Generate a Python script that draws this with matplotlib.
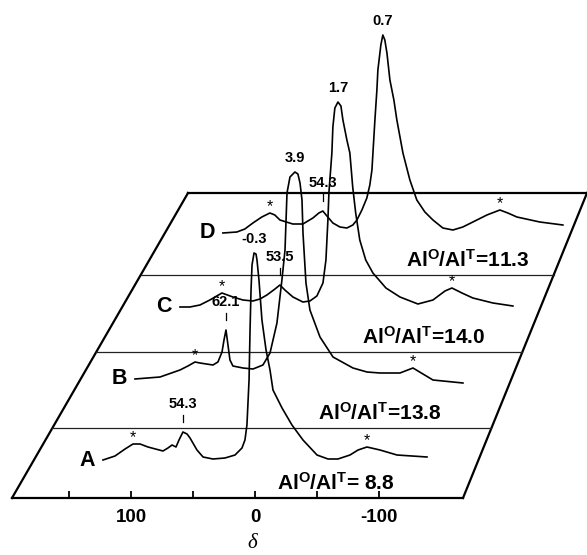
import numpy as np
import matplotlib.pyplot as plt

plt.rcParams['font.family'] = ['Liberation Sans', 'DejaVu Sans']
plt.rcParams['mathtext.fontset'] = 'custom'
plt.rcParams['mathtext.rm'] = 'Liberation Sans:bold'
plt.rcParams['mathtext.it'] = 'Liberation Sans:bold'
plt.rcParams['mathtext.bf'] = 'Liberation Sans:bold'

# 27Al spectra: shift (ppm) and height above own baseline
a_ppm = [122.6, 112.9, 104.8, 98.4, 92.7, 86.3, 74.2, 70.2, 66.9, 63.7, 61.3, 58.1, 54.8, 52.4, 46.8,
         41.9, 33.9, 24.2, 16.1, 10.5, 8.1, 6.5, 4.8, 4.0, 3.2, 2.4, 0.8, -0.8, -1.6, -3.2, -5.6, -8.9,
         -12.1, -14.5, -21.8, -29.8, -38.7, -50.0, -58.9, -66.9, -76.6, -83.1, -90.3, -100.8, -114.5, -138.7]
a_int = [0, 4, 11, 16, 16, 13, 9, 12, 15, 13, 20, 28, 26, 22, 10,
         3, 1, 2, 5, 12, 20, 35, 80, 130, 170, 195, 207, 206, 200, 180, 140, 110,
         90, 70, 52, 35, 20, 5, 1, 1, 5, 10, 13, 10, 5, 3]

b_ppm = [130.8, 110.6, 94.5, 88.1, 82.4, 78.4, 67.9, 63.9, 60.6, 59.0, 57.4, 55.8, 54.2, 51.8, 43.7,
         35.6, 27.6, 21.9, 16.3, 12.3, 9.8, 8.2, 5.8, 1.8, -0.6, -2.3, -3.9, -4.7, -7.1, -10.3,
         -18.4, -28.9, -45.0, -56.3, -66.8, -82.9, -93.4, -109.5, -133.7]
b_int = [0, 2, 9, 13, 17, 16, 14, 17, 27, 39, 49, 34, 19, 13, 11,
         10, 14, 26, 56, 99, 129, 186, 202, 207, 205, 196, 179, 146, 96, 69,
         42, 22, 11, 7, 6, 6, 11, -1, -4]

c_ppm = [128.5, 120.5, 112.4, 104.4, 94.7, 85.8, 77.7, 69.7, 64.0, 58.4, 51.9, 47.9, 43.9, 37.4, 29.4,
         23.7, 18.1, 13.2, 10.8, 9.2, 8.4, 6.0, 5.2, 3.6, 1.1, -1.3, -2.9, -6.1, -8.5, -10.8,
         -13.2, -16.5, -21.3, -27.1, -37.6, -48.9, -63.4, -75.5, -85.2, -90.8, -98.9, -107.7, -123.9, -140.0]
c_int = [0, 0, 2, 7, 14, 10, 7, 6, 8, 12, 18, 22, 17, 10, 5,
         6, 11, 24, 47, 87, 114, 154, 180, 199, 205, 201, 187, 167, 154, 120,
         94, 67, 47, 34, 19, 10, 3, 7, 16, 19, 14, 9, 4, 1]

d_ppm = [127.9, 116.6, 110.2, 103.7, 96.5, 90.0, 86.0, 81.9, 71.5, 63.4, 55.3, 50.5, 47.3, 44.0, 39.2,
         33.5, 27.9, 23.1, 19.8, 15.8, 11.8, 9.4, 7.7, 5.3, 3.7, 2.9, 0.5, -1.1, -2.7, -4.4,
         -6.8, -10.0, -12.4, -17.3, -22.9, -28.5, -35.0, -41.5, -49.5, -57.6, -65.6, -73.7, -85.0,
         -95.5, -101.9, -109.2, -127.7, -146.3]
d_int = [0, 1, 4, 10, 16, 20, 18, 13, 9, 9, 15, 20, 22, 17, 10,
         6, 5, 8, 13, 23, 35, 48, 63, 113, 143, 163, 188, 198, 193, 180,
         153, 133, 113, 80, 53, 33, 21, 13, 5, 3, 6, 11, 18, 23, 20, 16, 11, 8]

names = ['A', 'B', 'C', 'D']
main_labels = ['-0.3', '3.9', '1.7', '0.7']
tet_labels = ['54.3', '62.1', '53.5', '54.3']
tet_ppm = [58.1, 57.4, 47.9, 47.3]
star_ppm = [[98.4, -90.3], [82.4, -93.4], [94.7, -90.8], [90.0, -95.5]]
ratios = ['8.8', '13.8', '14.0', '11.3']
ticks = [150, 100, 50, 0, -50, -100]
tick_labels = ['', '100', '', '0', '', '-100']

spectra = [(a_ppm, a_int), (b_ppm, b_int), (c_ppm, c_int), (d_ppm, d_int)]

# layout of the oblique stack (pixel based)
PX = 1.24                      # pixels per ppm
def xpix(p):
    return (255 - p) / PX      # pixel column -> ppm axis
depth = 34                     # ppm shift per step back
base = [95, 176, 248, 322]     # baselines of A..D
levels = [57, 127, 203, 280, 362]
left_bot, left_top = xpix(12), xpix(188)
right_bot, right_top = xpix(463), xpix(587)

fig = plt.figure(figsize=(5.87, 5.55), dpi=100)
ax = fig.add_axes([0, 0, 1, 1])
ax.set_xlim(xpix(0), xpix(587))
ax.set_ylim(0, 555)

for s in ['top', 'left', 'right']:
    ax.spines[s].set_visible(False)
ax.spines['bottom'].set_position(('data', levels[0]))
ax.spines['bottom'].set_bounds(right_bot, left_bot)
ax.spines['bottom'].set_linewidth(1.6)
ax.set_xticks(ticks, tick_labels, fontweight='bold')
ax.tick_params(axis='x', direction='in', length=5, width=1.3, pad=8, labelsize=13.5)
ax.set_yticks([])

# frame: slanted sides, top edge and thin level lines
def edge(y, a, b):
    t = (y - levels[0]) / (levels[-1] - levels[0])
    return a + (b - a) * t

ax.plot([left_bot, left_top], [levels[0], levels[-1]], color='black', lw=1.6)
ax.plot([right_bot, right_top], [levels[0], levels[-1]], color='black', lw=1.6)
ax.plot([left_top, right_top], [levels[-1], levels[-1]], color='black', lw=1.6)
for y in levels[1:-1]:
    ax.plot([edge(y, left_bot, left_top), edge(y, right_bot, right_top)], [y, y], color='#222222', lw=0.9)

for k, (ppm, inten) in enumerate(spectra):
    ppm = np.array(ppm)
    inten = np.array(inten)
    x = ppm - depth * k
    y = base[k] + inten
    ax.plot(x, y, color='black', lw=1.2)

    i = np.argmax(inten)
    ax.text(x[i], y[i] + 14, main_labels[k], ha='center', va='center', fontsize=10.5, fontweight='bold')

    yt = base[k] + np.interp(tet_ppm[k], ppm[::-1], inten[::-1])
    xt = tet_ppm[k] - depth * k
    ax.plot([xt, xt], [yt + 10, yt + 17], color='black', lw=0.9)
    ax.text(xt, yt + 28, tet_labels[k], ha='center', va='center', fontsize=10.5, fontweight='bold')

    for sp in star_ppm[k]:
        ys = base[k] + np.interp(sp, ppm[::-1], inten[::-1])
        ax.text(sp - depth * k, ys + 6, '*', ha='center', va='center', fontsize=11.5)

    ax.text(x[0] + 8 / PX, base[k], names[k], ha='right', va='center', fontsize=15.5, fontweight='bold')

    ax.text(xpix(336 + 44 * k), levels[k] + 15,
            r'Al$^{\rm O}$/Al$^{\rm T}$=' + (' ' if k == 0 else '') + ratios[k],
            ha='center', va='center', fontsize=15, fontweight='bold')

ax.text(xpix(252), 11, 'δ', ha='center', va='center', fontsize=15, family='Liberation Serif', style='italic')

fig.savefig('out.png', dpi=100)
